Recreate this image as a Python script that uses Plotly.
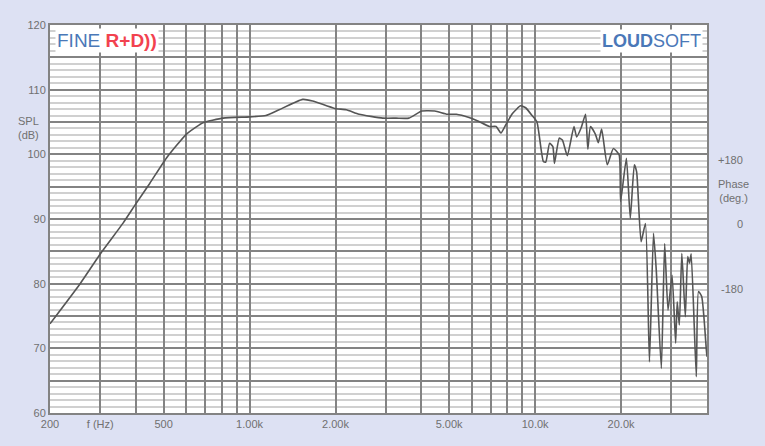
import plotly.graph_objects as go

# Frequency response (Hz, dB SPL)
freq_hz = [200, 255, 300, 361, 399, 447, 511, 600, 669, 687, 808, 1000, 1141, 1269, 1535, 1663,
           1986, 2182, 2417, 2927, 3260, 3612, 4012, 4456, 4926, 5300, 5870, 6270, 6920, 7300,
           7590, 7900, 8330, 8900, 9270, 9760, 10150, 10690, 10900, 11240, 11540, 11690, 12150,
           12460, 12970, 13680, 13980, 14500, 15020, 15300, 15630, 16270, 16650, 17100, 17900,
           18800, 19700, 19930, 20880, 21550, 22260, 22680, 23510, 24350, 25150, 25980, 26570,
           27680, 28430, 29210, 30190, 31060, 31460, 32000, 32650, 33580, 34240, 34750, 35210,
           36690, 37340, 38330, 39800, 40000]
spl_db = [73.8, 80.0, 84.6, 89.4, 92.3, 95.5, 99.4, 103.1, 104.6, 104.9, 105.6, 105.8, 106.0, 106.9,
          108.5, 108.25, 107.1, 106.9, 106.2, 105.6, 105.6, 105.6, 106.7, 106.7, 106.2, 106.2,
          105.7, 105.2, 104.3, 104.3, 103.3, 104.6, 106.3, 107.5, 107.2, 106.0, 105.0, 98.9,
          98.8, 101.7, 101.2, 98.6, 102.5, 102.2, 99.8, 104.3, 102.7, 104.1, 106.2, 100.8,
          104.3, 103.1, 101.8, 103.9, 98.4, 100.9, 99.9, 92.7, 99.4, 90.1, 98.4, 97.3, 86.5,
          89.3, 67.9, 87.8, 82.1, 66.9, 86.2, 75.9, 81.3, 70.8, 77.2, 73.6, 84.7, 74.9, 84.2,
          83.2, 84.6, 65.6, 78.8, 78.0, 69.7, 68.7]

x_grid = [200, 300, 400, 500, 600, 700, 800, 900, 1000, 2000, 3000, 4000, 5000, 6000, 7000,
          8000, 9000, 10000, 20000, 30000]
x_labels = {200: "200", 300: "f (Hz)", 500: "500", 1000: "1.00k", 2000: "2.00k",
            5000: "5.00k", 10000: "10.0k", 20000: "20.0k"}
y_major = list(range(60, 121, 5))
y_labels = {v: str(v) for v in range(60, 121, 10)}
phase_ticks = [180, 0, -180]
phase_text = ["+180", "0", "-180"]

BG = "#dde1f3"
TXT = "#707070"
DARK = "#838383"
LIGHT = "#d0d0d0"
BLUE = "#4a78b8"
RED = "#f2424f"
FONT = "Liberation Sans, Arial, sans-serif"

fig = go.Figure()
fig.add_trace(go.Scatter(x=freq_hz, y=spl_db, mode="lines",
                         line=dict(color="#555555", width=1.6, shape="spline", smoothing=0.5),
                         hoverinfo="skip", showlegend=False))

fig.update_layout(
    width=765, height=446,
    margin=dict(l=50, r=58, t=25, b=33),
    paper_bgcolor=BG, plot_bgcolor="white",
    font=dict(family=FONT, size=11, color=TXT),
    showlegend=False,
)
fig.update_xaxes(type="log", range=[2.30103, 4.60206],
                 tickvals=x_grid, ticktext=[x_labels.get(v, "") for v in x_grid],
                 showgrid=True, gridcolor=DARK, gridwidth=2,
                 showline=True, linecolor=DARK, linewidth=2, mirror=True,
                 ticks="", zeroline=False, tickfont=dict(size=11, color=TXT))
fig.update_yaxes(range=[60, 120], tickvals=y_major,
                 ticktext=[y_labels.get(v, "") for v in y_major],
                 showgrid=True, gridcolor=DARK, gridwidth=2,
                 minor=dict(dtick=1, showgrid=True, gridcolor=LIGHT, gridwidth=1.5),
                 showline=True, linecolor=DARK, linewidth=2, mirror=True,
                 ticks="", zeroline=False, tickfont=dict(size=11, color=TXT))

# Phase scale: +180 -> ~99.2 dB, 0 -> ~89.2 dB, -180 -> ~79.2 dB
for p, t in zip(phase_ticks, phase_text):
    fig.add_annotation(x=1, xref="paper", xshift=38, xanchor="right",
                       y=89.2 + p / 18.0, yref="y", text=t, showarrow=False,
                       font=dict(size=11, color=TXT))
fig.add_annotation(x=1, xref="paper", xshift=26, xanchor="center",
                   y=94.4, yref="y", text="Phase<br>(deg.)", showarrow=False,
                   font=dict(size=11, color=TXT))
fig.add_annotation(x=0, xref="paper", xshift=-22, xanchor="center",
                   y=104.0, yref="y", text="SPL<br>(dB)", showarrow=False,
                   font=dict(size=11, color=TXT))

fig.add_annotation(x=0, xref="paper", xshift=5, xanchor="left",
                   y=1, yref="paper", yshift=-3, yanchor="top",
                   text=f"<span style='color:{BLUE}'>FINE </span><b style='color:{RED}'>R+D))</b>",
                   showarrow=False, bgcolor="white", borderpad=1,
                   font=dict(size=19, family=FONT))
fig.add_annotation(x=1, xref="paper", xshift=-4, xanchor="right",
                   y=1, yref="paper", yshift=-4, yanchor="top",
                   text=f"<b>LOUD</b>SOFT", showarrow=False, bgcolor="white", borderpad=1,
                   font=dict(size=18, family=FONT, color=BLUE))

fig.write_html("out.html", config={"displayModeBar": False},
               post_script="document.body.style.margin='0';")
